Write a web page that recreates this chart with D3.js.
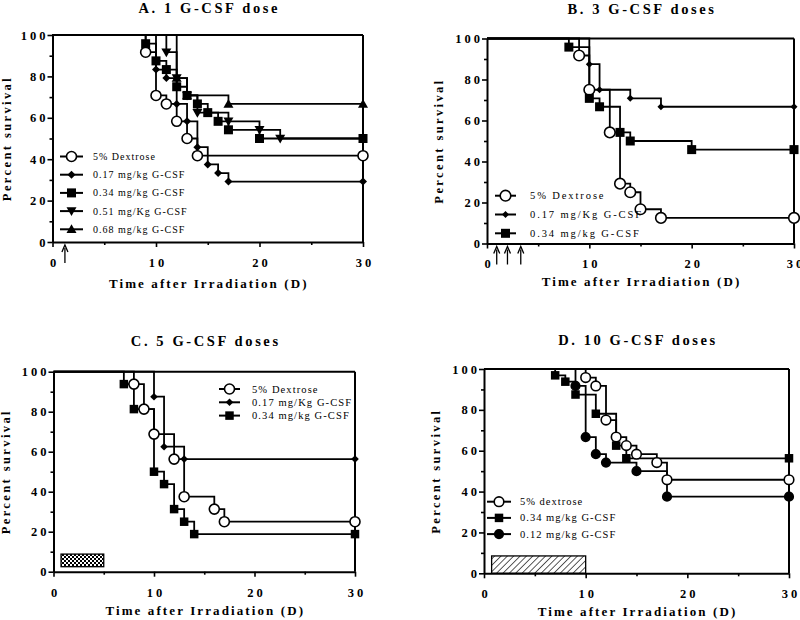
<!DOCTYPE html>
<html><head><meta charset="utf-8">
<script src="https://cdn.jsdelivr.net/npm/d3@7"></script>
<style>body{margin:0;background:#fff}</style>
</head><body>
<svg id="chart" width="800" height="620"></svg>
<script>
// ---------- data ----------
const xTicks = [0, 10, 20, 30];
const xMinor = [5, 15, 25];
const yTicks = [0, 20, 40, 60, 80, 100];
const yMinor = [10, 30, 50, 70, 90];
const xLabel = "Time after Irradiation (D)";
const yLabel = "Percent survival";

// Panel A
const titleA = "A. 1 G-CSF dose";
const namesA = ["5% Dextrose", "0.17 mg/kg G-CSF", "0.34 mg/kg G-CSF", "0.51 mg/Kg G-CSF", "0.68 mg/kg G-CSF"];
const symbolsA = ["circleOpen", "diamond", "square", "triDown", "triUp"];
const dextroseA = [[9, 91.7], [10, 70.8], [11, 66.7], [12, 58.3], [13, 50], [14, 41.7], [30, 41.7]];
const g017A = [[10, 83.3], [11, 79.2], [12, 66.7], [13, 58.3], [14, 45.8], [15, 37.5], [16, 33.3], [17, 29.2], [30, 29.2]];
const g034A = [[9, 95.8], [10, 87.5], [11, 83.3], [12, 75], [13, 70.8], [14, 66.7], [15, 62.5], [16, 58.3], [17, 54.2], [20, 50], [30, 50]];
const g051A = [[11, 91.7], [12, 79.2], [13, 70.8], [14, 62.5], [17, 58.3], [20, 54.2], [22, 50]];
const g068A = [[12, 79.2], [13, 70.8], [17, 66.7], [30, 66.7]];
const arrowsA = [1.2];

// Panel B
const titleB = "B. 3 G-CSF doses";
const namesB = ["5% Dextrose", "0.17 mg/Kg G-CSF", "0.34 mg/kg G-CSF"];
const symbolsB = ["circleOpen", "diamond", "square"];
const dextroseB = [[9, 91.7], [10, 75], [12, 54.2], [13, 29.2], [14, 25], [15, 16.7], [17, 12.5], [30, 12.5]];
const g017B = [[10, 87.5], [11, 75], [14, 70.8], [17, 66.7], [30, 66.7]];
const g034B = [[8, 95.8], [10, 70.8], [11, 66.7], [13, 54.2], [14, 50], [20, 45.8], [30, 45.8]];
const arrowsB = [0.95, 2, 3.3];

// Panel C
const titleC = "C. 5 G-CSF doses";
const namesC = ["5% Dextrose", "0.17 mg/Kg G-CSF", "0.34 mg/kg G-CSF"];
const symbolsC = ["circleOpen", "diamond", "square"];
const dextroseC = [[8, 93.8], [9, 81.3], [10, 68.8], [12, 56.3], [13, 37.5], [16, 31.3], [17, 25], [30, 25]];
const g017C = [[10, 87.5], [11, 62.5], [13, 56.3], [30, 56.3]];
const g034C = [[7, 93.8], [8, 81.3], [10, 50], [11, 43.8], [12, 31.3], [13, 25], [14, 18.8], [30, 18.8]];
const boxC = [0.75, 5, 2.5, 8.8];   // x from, x to, y from, y to

// Panel D
const titleD = "D. 10 G-CSF doses";
const namesD = ["5% dextrose", "0.34 mg/kg G-CSF", "0.12 mg/kg G-CSF"];
const symbolsD = ["circleOpen", "square", "circleFilled"];
const dextroseD = [[10, 95.8], [11, 91.7], [12, 75], [13, 66.7], [14, 62.5], [15, 58.3], [17, 54.2], [18, 45.8], [30, 45.8]];
const g034D = [[7, 96.9], [8, 93.8], [9, 87.5], [11, 78.1], [13, 62.5], [14, 56.3], [30, 56.3]];
const g012D = [[9, 91.7], [10, 66.7], [11, 58.3], [12, 54.2], [15, 50], [18, 37.5], [30, 37.5]];
const boxD = [0.75, 10, 0, 8.5];

// ---------- drawing ----------
const svg = d3.select("#chart");
const FONT = "'Liberation Serif','Times New Roman',serif";

const defs = svg.append("defs");
const chk = defs.append("pattern").attr("id", "checker").attr("patternUnits", "userSpaceOnUse")
  .attr("width", 4).attr("height", 4);
chk.append("rect").attr("width", 4).attr("height", 4).attr("fill", "#fff");
chk.append("rect").attr("width", 2).attr("height", 2).attr("fill", "#000");
chk.append("rect").attr("x", 2).attr("y", 2).attr("width", 2).attr("height", 2).attr("fill", "#000");
const hat = defs.append("pattern").attr("id", "hatch").attr("patternUnits", "userSpaceOnUse")
  .attr("width", 4.5).attr("height", 4.5).attr("patternTransform", "rotate(45)");
hat.append("rect").attr("width", 4.5).attr("height", 4.5).attr("fill", "#fff");
hat.append("line").attr("x1", 0).attr("y1", 0).attr("x2", 0).attr("y2", 4.5)
  .attr("stroke", "#000").attr("stroke-width", 1.3);

function marker(g, type, cx, cy, sz) {
  const s = sz.s;
  if (type === "circleOpen" || type === "circleFilled") {
    g.append("circle").attr("cx", cx).attr("cy", cy).attr("r", type === "circleOpen" ? sz.r : sz.rf)
      .attr("fill", type === "circleOpen" ? "#fff" : "#000").attr("stroke", "#000").attr("stroke-width", 1.6);
  } else if (type === "square") {
    g.append("rect").attr("x", cx - s / 2).attr("y", cy - s / 2).attr("width", s).attr("height", s).attr("fill", "#000");
  } else if (type === "diamond") {
    const d = sz.d;
    g.append("path").attr("d", `M${cx},${cy - d}L${cx + d},${cy}L${cx},${cy + d}L${cx - d},${cy}Z`).attr("fill", "#000");
  } else if (type === "triDown") {
    const t = sz.t;
    g.append("path").attr("d", `M${cx - t},${cy - t * 0.75}L${cx + t},${cy - t * 0.75}L${cx},${cy + t}Z`).attr("fill", "#000");
  } else if (type === "triUp") {
    const t = sz.t;
    g.append("path").attr("d", `M${cx - t},${cy + t * 0.75}L${cx + t},${cy + t * 0.75}L${cx},${cy - t}Z`).attr("fill", "#000");
  }
}

function panel(cfg) {
  const g = svg.append("g");
  const x = d3.scaleLinear().domain([0, 30]).range([cfg.x0, cfg.x1]);
  const y = d3.scaleLinear().domain([0, 100]).range([cfg.y0, cfg.y1]);

  // box (treatment period)
  if (cfg.box) {
    const b = cfg.box;
    g.append("rect").attr("x", x(b[0])).attr("y", y(b[3])).attr("width", x(b[1]) - x(b[0]))
      .attr("height", y(b[2]) - y(b[3])).attr("fill", `url(#${cfg.boxFill})`)
      .attr("stroke", "#000").attr("stroke-width", 1.3);
  }

  // axes
  const ax = g.append("g").attr("transform", `translate(0,${cfg.y0})`)
    .call(d3.axisBottom(x).tickValues(xTicks).tickSize(5).tickSizeOuter(0).tickFormat(d3.format("d")));
  g.append("g").attr("transform", `translate(0,${cfg.y0})`)
    .call(d3.axisBottom(x).tickValues(xMinor).tickSize(3).tickSizeOuter(0).tickFormat(""))
    .select(".domain").remove();
  const ay = g.append("g").attr("transform", `translate(${cfg.x0},0)`)
    .call(d3.axisLeft(y).tickValues(yTicks).tickSize(5).tickSizeOuter(0).tickFormat(d3.format("d")));
  g.append("g").attr("transform", `translate(${cfg.x0},0)`)
    .call(d3.axisLeft(y).tickValues(yMinor).tickSize(3).tickSizeOuter(0).tickFormat(""))
    .select(".domain").remove();
  g.selectAll(".domain").attr("stroke-width", 2);
  g.selectAll(".tick line").attr("stroke-width", 1.6);
  ax.selectAll(".tick text").attr("font-family", FONT).attr("font-weight", "bold").attr("font-size", 12.5)
    .style("letter-spacing", "3px").attr("dx", 1.5).attr("y", 16).attr("fill", "#000");
  ay.selectAll(".tick text").attr("font-family", FONT).attr("font-weight", "bold").attr("font-size", 12.5)
    .style("letter-spacing", "3px").attr("x", -4).attr("fill", "#000");

  // frame top & right
  g.append("line").attr("x1", cfg.x0).attr("x2", cfg.x1).attr("y1", cfg.y1).attr("y2", cfg.y1)
    .attr("stroke", "#000").attr("stroke-width", 2);
  g.append("line").attr("x1", cfg.x1).attr("x2", cfg.x1).attr("y1", cfg.y1).attr("y2", cfg.y0)
    .attr("stroke", "#000").attr("stroke-width", 2);

  // arrows
  (cfg.arrows || []).forEach(a => {
    const ax0 = x(a);
    g.append("line").attr("x1", ax0).attr("x2", ax0).attr("y1", cfg.y0 + 21).attr("y2", cfg.y0 + 6)
      .attr("stroke", "#000").attr("stroke-width", 1.3);
    g.append("path").attr("d", `M${ax0 - 3},${cfg.y0 + 10}L${ax0},${cfg.y0 + 3}L${ax0 + 3},${cfg.y0 + 10}`)
      .attr("fill", "none").attr("stroke", "#000").attr("stroke-width", 1.3);
  });

  // curves
  const line = d3.line().x(d => x(d[0])).y(d => y(d[1])).curve(d3.curveStepAfter);
  cfg.series.forEach((pts) => {
    const full = [[0, 100], ...pts];
    if (pts[pts.length - 1][0] < 30) full.push([30, pts[pts.length - 1][1]]);
    g.append("path").attr("d", line(full)).attr("fill", "none").attr("stroke", "#000").attr("stroke-width", 1.8);
  });
  cfg.series.forEach((pts, i) => {
    pts.forEach(p => marker(g, cfg.symbols[i], x(p[0]), y(p[1]), cfg.sz));
  });

  // legend
  cfg.names.forEach((n, i) => {
    const ly = cfg.leg.y + i * cfg.leg.dy;
    g.append("line").attr("x1", cfg.leg.x1).attr("x2", cfg.leg.x2).attr("y1", ly).attr("y2", ly)
      .attr("stroke", "#000").attr("stroke-width", 2);
    marker(g, cfg.symbols[i], (cfg.leg.x1 + cfg.leg.x2) / 2, ly, cfg.sz);
    g.append("text").attr("x", cfg.leg.tx).attr("y", ly + 3.5).text(n)
      .attr("font-family", FONT).attr("font-size", cfg.leg.fs).style("letter-spacing", cfg.leg.ls + "px")
      .attr("fill", "#000");
  });

  // titles
  const cx = (cfg.x0 + cfg.x1) / 2;
  g.append("text").attr("x", cx + 1.5).attr("y", cfg.titleY).attr("text-anchor", "middle").text(cfg.title)
    .attr("font-family", FONT).attr("font-weight", "bold").attr("font-size", 14.5)
    .style("letter-spacing", "2.6px").attr("fill", "#000");
  g.append("text").attr("x", cx + 1).attr("y", cfg.xLabY).attr("text-anchor", "middle").text(xLabel)
    .attr("font-family", FONT).attr("font-weight", "bold").attr("font-size", 13)
    .style("letter-spacing", "2.1px").attr("fill", "#000");
  const ymid = (cfg.y0 + cfg.y1) / 2;
  g.append("text").attr("transform", `translate(${cfg.x0 - cfg.yLabOff},${ymid}) rotate(-90)`)
    .attr("text-anchor", "middle").text(yLabel)
    .attr("font-family", FONT).attr("font-weight", "bold").attr("font-size", 12.5)
    .style("letter-spacing", "2.4px").attr("fill", "#000");
}

panel({
  x0: 52.5, x1: 363, y0: 242, y1: 35, title: titleA, titleY: 13, xLabY: 288, yLabOff: 42,
  series: [dextroseA, g017A, g034A, g051A, g068A], symbols: symbolsA, names: namesA,
  sz: { r: 5, rf: 4.3, s: 9, d: 4, t: 5 },
  leg: { x1: 60, x2: 83, tx: 93, y: 156.5, dy: 18.2, fs: 10, ls: 1.0 }, arrows: arrowsA
});
panel({
  x0: 487, x1: 794, y0: 243.5, y1: 38.5, title: titleB, titleY: 14, xLabY: 286, yLabOff: 44,
  series: [dextroseB, g017B, g034B], symbols: symbolsB, names: namesB,
  sz: { r: 5.3, rf: 4.3, s: 9, d: 3.5, t: 5 },
  leg: { x1: 495, x2: 516, tx: 530, y: 195.7, dy: 18.8, fs: 10.5, ls: 1.9 }, arrows: arrowsB
});
panel({
  x0: 53.5, x1: 355, y0: 571.7, y1: 371.7, title: titleC, titleY: 346, xLabY: 615, yLabOff: 44,
  series: [dextroseC, g017C, g034C], symbols: symbolsC, names: namesC,
  sz: { r: 5, rf: 4.3, s: 8.5, d: 3.8, t: 5 },
  leg: { x1: 219, x2: 240, tx: 252, y: 389, dy: 13.3, fs: 10.5, ls: 1.1 }, box: boxC, boxFill: "checker"
});
panel({
  x0: 484, x1: 789, y0: 573.3, y1: 369, title: titleD, titleY: 345, xLabY: 616, yLabOff: 44,
  series: [dextroseD, g034D, g012D], symbols: symbolsD, names: namesD,
  sz: { r: 4.8, rf: 4.3, s: 8.5, d: 3.8, t: 5 },
  leg: { x1: 487, x2: 511, tx: 520, y: 501.7, dy: 16.2, fs: 10.5, ls: 1.0 }, box: boxD, boxFill: "hatch"
});
</script>
</body></html>
